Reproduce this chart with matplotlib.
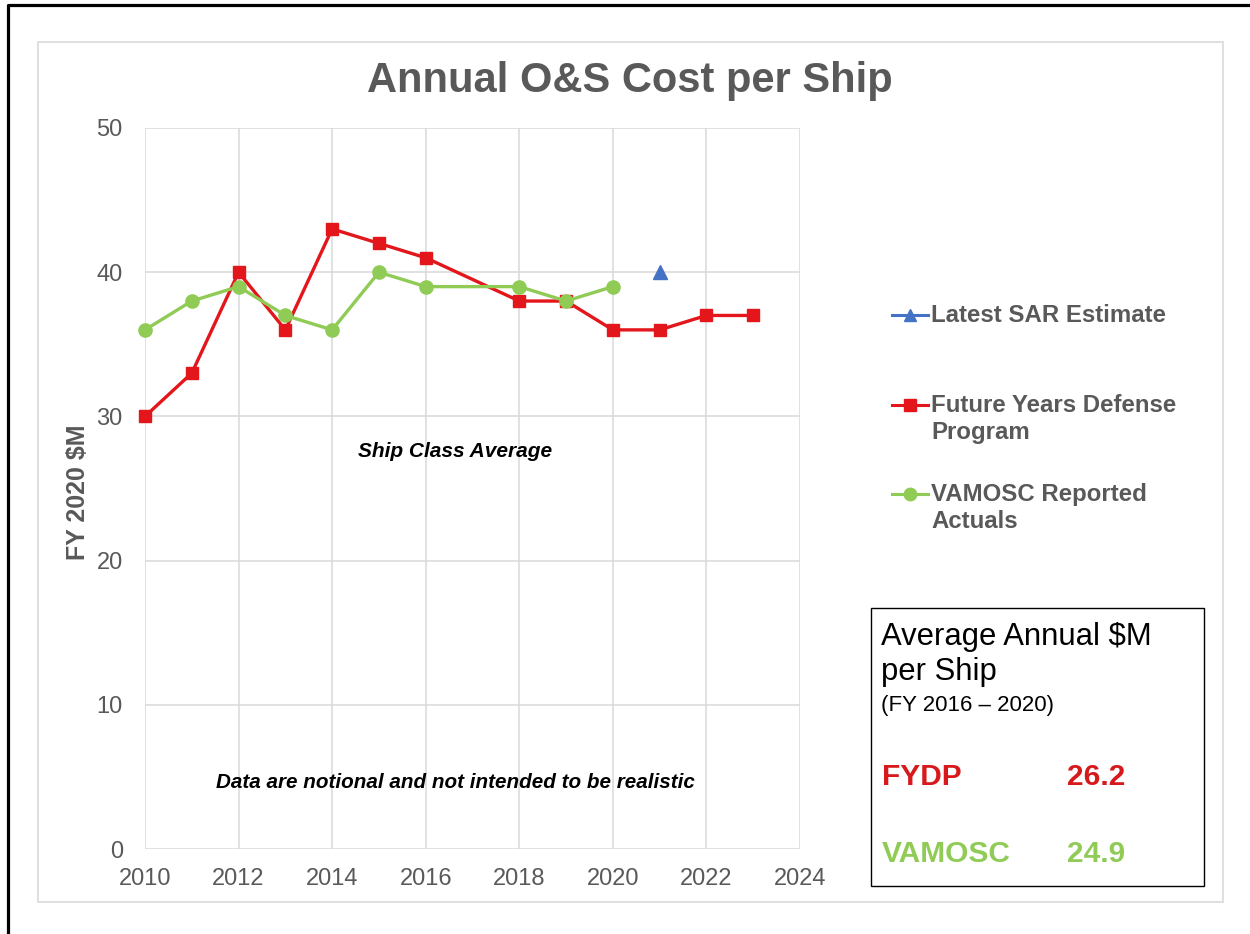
import matplotlib
matplotlib.use("Agg")
import matplotlib.pyplot as plt
from matplotlib.lines import Line2D
from matplotlib.patches import Rectangle

plt.rcParams['font.family'] = ['Liberation Sans', 'DejaVu Sans']

# ---- data ----
fydp_years = [2010, 2011, 2012, 2013, 2014, 2015, 2016, 2018, 2019, 2020, 2021, 2022, 2023]
fydp_values = [30, 33, 40, 36, 43, 42, 41, 38, 38, 36, 36, 37, 37]
vamosc_years = [2010, 2011, 2012, 2013, 2014, 2015, 2016, 2018, 2019, 2020]
vamosc_values = [36, 38, 39, 37, 36, 40, 39, 39, 38, 39]
sar_years = [2021]
sar_values = [40]
x_ticks = [2010, 2012, 2014, 2016, 2018, 2020, 2022, 2024]
y_ticks = [0, 10, 20, 30, 40, 50]
legend_labels = ["Latest SAR Estimate", "Future Years Defense\nProgram", "VAMOSC Reported\nActuals"]
box_avg_labels = ["FYDP", "VAMOSC"]
box_avg_values = ["26.2", "24.9"]

W, H = 1250, 934
RED = '#E3161B'
GREEN = '#8FCB55'
BLUE = '#4472C4'
GRAY = '#595959'
GRID = '#D9D9D9'

fig = plt.figure(figsize=(W / 100, H / 100), dpi=100)
fig.patch.set_facecolor('white')


def fx(px):
    return px / W


def fy(py):
    return 1 - py / H


# outer black border (left and top)
fig.add_artist(Line2D([fx(8), fx(8), fx(1250)], [fy(934), fy(5), fy(5)],
                      color='black', lw=2.3, transform=fig.transFigure))
# light gray chart frame
fig.add_artist(Rectangle((fx(38), fy(902)), fx(1223) - fx(38), fy(42) - fy(902),
                         transform=fig.transFigure, fill=False, edgecolor=GRID, lw=1.2))

ax = fig.add_axes([fx(145), fy(849), fx(800) - fx(145), fy(128) - fy(849)])
ax.set_xlim(2010, 2024)
ax.set_ylim(0, 50)
ax.set_xticks(x_ticks)
ax.set_yticks(y_ticks)
ax.tick_params(length=0, labelsize=17, labelcolor=GRAY)
ax.tick_params(axis='y', pad=16)
ax.tick_params(axis='x', pad=14)
for s in ax.spines.values():
    s.set_visible(False)
ax.grid(True, color=GRID, lw=1.1)
ax.set_axisbelow(True)

ax.plot(fydp_years, fydp_values, color=RED, lw=2.4, marker='s', ms=8.5, zorder=3, clip_on=False)
ax.plot(vamosc_years, vamosc_values, color=GREEN, lw=2.4, marker='o', ms=9.5, zorder=4, clip_on=False)
ax.plot(sar_years, sar_values, color=BLUE, lw=2.4, marker='^', ms=10, ls='none', zorder=5, clip_on=False)

ax.text(2016.63, 27.6, "Ship Class Average", ha='center', va='center',
        fontsize=15, fontweight='bold', fontstyle='italic', color='black')
ax.text(2016.63, 4.6, "Data are notional and not intended to be realistic", ha='center', va='center',
        fontsize=14.9, fontweight='bold', fontstyle='italic', color='black')

fig.text(fx(630), fy(81), "Annual O&S Cost per Ship", ha='center', va='center',
         fontsize=30, fontweight='bold', color=GRAY)
fig.text(fx(78), fy(492), "FY 2020 $M", ha='center', va='center', rotation=90,
         fontsize=18, fontweight='bold', color=GRAY)

# legend (manual)
leg_y = [315, 405, 494]
leg_styles = [(BLUE, '^', 9), (RED, 's', 8), (GREEN, 'o', 9)]
for lab, y, (c, m, ms) in zip(legend_labels, leg_y, leg_styles):
    fig.add_artist(Line2D([fx(892), fx(928)], [fy(y), fy(y)], color=c, lw=2.2,
                          transform=fig.transFigure))
    fig.add_artist(Line2D([fx(910)], [fy(y)], color=c, marker=m, ms=ms, ls='none',
                          transform=fig.transFigure))
    for i, line in enumerate(lab.split('\n')):
        fig.text(fx(931), fy(y + 28 * i), line, ha='left', va='center',
                 fontsize=17.3, fontweight='bold', color=GRAY)

# average box
fig.add_artist(Rectangle((fx(871), fy(886)), fx(1204) - fx(871), fy(608) - fy(886),
                         transform=fig.transFigure, fill=True, facecolor='white',
                         edgecolor='black', lw=1.0))
fig.text(fx(881), fy(645), "Average Annual $M", ha='left', va='baseline', fontsize=22.3, color='black')
fig.text(fx(881), fy(680), "per Ship", ha='left', va='baseline', fontsize=22.3, color='black')
fig.text(fx(881), fy(711), "(FY 2016 \u2013 2020)", ha='left', va='baseline', fontsize=16, color='black')
box_colors = ['#D7191C', '#8FCB55']
for lab, val, yy, c in zip(box_avg_labels, box_avg_values, [777, 854], box_colors):
    fig.text(fx(882), fy(yy), lab, ha='left', va='center', fontsize=21.5, fontweight='bold', color=c)
    fig.text(fx(1067), fy(yy), val, ha='left', va='center', fontsize=21.5, fontweight='bold', color=c)

fig.savefig("out.png", dpi=100)
